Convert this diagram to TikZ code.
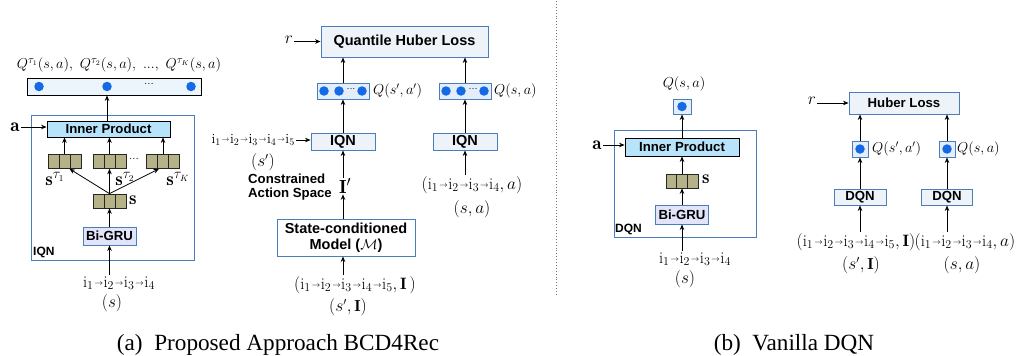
\documentclass[tikz,border=0pt]{standalone}
\usepackage{fontspec}
\setsansfont{Liberation Sans}
\newfontfamily\capfont{Liberation Serif}
\usetikzlibrary{arrows.meta,calc}
\definecolor{bblue}{RGB}{74,126,187}
\definecolor{lfill}{RGB}{238,243,250}
\definecolor{qfill}{RGB}{228,237,250}
\definecolor{ipfill}{RGB}{183,228,250}
\definecolor{grufill}{RGB}{226,228,250}
\definecolor{olivec}{RGB}{181,178,135}
\definecolor{dotblue}{RGB}{20,105,230}
\definecolor{barfill}{RGB}{236,244,252}
\newcommand{\myfs}[1]{\fontsize{#1}{#1}\selectfont}
\newcommand{\sq}{\mkern1mu\raisebox{0.12em}{$\scriptscriptstyle\rightarrow$}\mkern0.5mu}
\begin{document}
\begin{tikzpicture}[x=1pt,y=-1pt,
  arr/.style={-{Stealth[length=5.5pt,width=4.5pt]}, line width=0.8pt},
  bbox/.style={draw=bblue, line width=0.9pt, fill=lfill, inner sep=0pt, font=\sffamily\bfseries\myfs{14.5}},
  sbox/.style={draw=bblue, line width=0.9pt, fill=lfill, inner sep=0pt, font=\sffamily\bfseries\myfs{13.2}},
  ipbox/.style={draw=black, line width=0.8pt, fill=ipfill, inner sep=0pt, font=\sffamily\bfseries\myfs{13.2}},
  grubox/.style={draw=bblue, line width=0.9pt, fill=grufill, inner sep=0pt, minimum width=53pt, font=\sffamily\bfseries\myfs{13.2}},
  bigbox/.style={draw=bblue, line width=0.9pt, inner sep=0pt},
  qbox/.style={draw=bblue, line width=0.9pt, fill=qfill, inner sep=0pt},
  tag/.style={font=\sffamily\bfseries\myfs{12}, inner sep=0pt, anchor=west},
  dot/.style={circle, fill=dotblue, minimum size=9.5pt, inner sep=0pt},
  vecbox/.style={draw=black!85, fill=olivec, minimum width=33pt, minimum height=14pt, inner sep=0pt, line width=0.7pt,
    path picture={\draw[black!85, line width=0.7pt]
      ([xshift=-5.5pt]path picture bounding box.north) -- ([xshift=-5.5pt]path picture bounding box.south)
      ([xshift=5.5pt]path picture bounding box.north) -- ([xshift=5.5pt]path picture bounding box.south);}},
  mth/.style={font=\myfs{14}, inner sep=1pt},
  seqt/.style={font=\myfs{16.5}, inner sep=1pt},
  big/.style={font=\myfs{19}, inner sep=1pt},
  captxt/.style={font=\capfont\myfs{23.2}, inner sep=0pt, anchor=base}
]
\path[use as bounding box] (0,0) rectangle (1018,356);

%% ---------- (a) left: IQN ----------
\node[mth, font=\myfs{15}] (qlabA) at (119,65) {$Q^{\tau_1}(s,a),\ Q^{\tau_2}(s,a),\ ...,\ Q^{\tau_K}(s,a)$};
\node[draw=black, line width=0.8pt, fill=barfill, minimum width=174pt, minimum height=17pt, inner sep=0pt] (barA) at (114,86.5) {};
\node[dot] (dA1) at (39,86.5) {};
\node[dot] (dA2) at (107,86.5) {};
\node[dot] (dA3) at (191,86.5) {};
\node[font=\myfs{12}, inner sep=0pt] (ddA) at (149,84) {...};
\node[bigbox, minimum width=163pt, minimum height=145pt] (iqnA) at (112.5,187.5) {};
\node[tag] (iqnAl) at (33,252) {IQN};
\node[ipbox, minimum width=123pt, minimum height=16pt] (ipA) at (108.5,129) {Inner Product};
\node[big] (aA) at (15,127) {$\mathbf{a}$};
\draw[arr] (aA.east) -- (aA.east -| ipA.west);
\draw[arr] (ipA.north -| dA2) -- (barA.south -| dA2);
\node[vecbox] (v1) at (64.5,161.5) {};
\node[vecbox] (v2) at (109.5,161.5) {};
\node[vecbox] (v3) at (163,161.5) {};
\node[font=\myfs{12}, inner sep=0pt] (ddv) at (134,159) {...};
\draw[arr] (v1.north) -- (v1.north |- ipA.south);
\draw[arr] (v2.north) -- (v2.north |- ipA.south);
\draw[arr] (v3.north) -- (v3.north |- ipA.south);
\node[big] (s1) at (55,179) {$\mathbf{s}^{\tau_1}$};
\node[big] (s2) at (125,179) {$\mathbf{s}^{\tau_2}$};
\node[big] (sK) at (178,179) {$\mathbf{s}^{\tau_K}$};
\node[vecbox] (vs) at (109.5,201) {};
\node[big, anchor=west] (vsl) at (128,200) {$\mathbf{s}$};
\draw[arr] (vs.north) -- ([xshift=5pt]v1.south);
\draw[arr] (vs.north) -- (v2.south);
\draw[arr] (vs.north) -- ([xshift=-4pt]v3.south);
\node[grubox, minimum height=18pt] (gruA) at (109.5,236) {Bi-GRU};
\draw[arr] (gruA.north) -- (vs.south);
\node[seqt] (inA) at (119,283) {$\mathrm{i}_1\sq\mathrm{i}_2\sq\mathrm{i}_3\sq\mathrm{i}_4$};
\node[big, font=\myfs{16}] (sA) at (112,303) {$(s)$};
\draw[arr] (inA.north -| gruA) -- (gruA.south);

%% ---------- (a) right: training ----------
\node[bbox, minimum width=167pt, minimum height=31pt] (loss) at (404.5,41.5) {Quantile Huber Loss};
\node[big, font=\myfs{18}] (r1) at (289,40) {$r$};
\draw[arr] (r1.east |- loss.west) -- (loss.west);
\node[qbox, minimum width=52pt, minimum height=16pt] (qL) at (343,91) {};
\node[dot] (qL1) at (324,91) {};
\node[dot] (qL2) at (339,91) {};
\node[dot] (qL3) at (362,91) {};
\node[font=\myfs{11}, inner sep=0pt] (qLd) at (351,89) {...};
\node[qbox, minimum width=52pt, minimum height=16pt] (qR) at (465,91) {};
\node[dot] (qR1) at (446,91) {};
\node[dot] (qR2) at (461,91) {};
\node[dot] (qR3) at (484,91) {};
\node[font=\myfs{11}, inner sep=0pt] (qRd) at (473,89) {...};
\node[mth, anchor=west] (qlL) at (372,91) {$Q(s',a')$};
\node[mth, anchor=west] (qlR) at (493,91) {$Q(s,a)$};
\node[bbox, minimum width=64pt, minimum height=17pt] (iqnL) at (343,141.5) {IQN};
\node[bbox, minimum width=64pt, minimum height=17pt] (iqnR) at (465,141.5) {IQN};
\draw[arr] (qL.north) -- (qL.north |- loss.south);
\draw[arr] (qR.north) -- (qR.north |- loss.south);
\draw[arr] (iqnL.north) -- (qL.south);
\draw[arr] (iqnR.north) -- (qR.south);
\node[seqt, font=\myfs{14}, anchor=east] (sqL) at (296,140) {$\mathrm{i}_1\sq\mathrm{i}_2\sq\mathrm{i}_3\sq\mathrm{i}_4\sq\mathrm{i}_5$};
\draw[arr] (sqL.east) -- (sqL.east -| iqnL.west);
\node[big, font=\myfs{16}] (sLp) at (263,162) {$(s')$};
\node[font=\sffamily\bfseries\myfs{13.2}, align=left, inner sep=0pt] (cas) at (290,187) {Constrained\\[1pt]Action Space};
\node[big] (ipr) at (345,186) {$\mathbf{I}'$};
\node[draw=bblue, line width=0.9pt, fill=white, minimum width=138pt, minimum height=37pt, inner sep=0pt, align=center, font=\sffamily\bfseries\myfs{14.5}] (smodel) at (346,237.5) {State-conditioned\\[2pt]Model ($\mathcal{M}$)};
\draw[arr] (smodel.north -| iqnL) -- (ipr.south -| iqnL);
\draw[arr] (ipr.north -| iqnL) -- (iqnL.south);
\node[seqt] (inB) at (355,285) {$(\mathrm{i}_1\sq\mathrm{i}_2\sq\mathrm{i}_3\sq\mathrm{i}_4\sq\mathrm{i}_5,\mathbf{I}\,)$};
\node[big, font=\myfs{16}] (sB) at (348,307) {$(s',\mathbf{I})$};
\draw[arr] (inB.north -| iqnL) -- (smodel.south -| iqnL);
\node[seqt] (inC) at (472,185) {$(\mathrm{i}_1\sq\mathrm{i}_2\sq\mathrm{i}_3\sq\mathrm{i}_4,a)$};
\node[big, font=\myfs{16}] (sC) at (472,209) {$(s,a)$};
\draw[arr] (inC.north -| iqnR) -- (iqnR.south);

%% ---------- separator ----------
\coordinate (sepT) at (556,1);
\coordinate (sepB) at (556,295);
\draw[black!55, dotted, line width=0.9pt] (sepT) -- (sepB);

%% ---------- (b) left: DQN ----------
\node[mth] (qlabD) at (684,84) {$Q(s,a)$};
\node[qbox, minimum width=18pt, minimum height=15pt] (qD) at (682,106.5) {};
\node[dot] (qDd) at (682,106.5) {};
\node[bigbox, minimum width=142pt, minimum height=107pt] (dqnA) at (685,183.5) {};
\node[tag] (dqnAl) at (615,229) {DQN};
\node[ipbox, minimum width=114pt, minimum height=18pt] (ipD) at (682,147) {Inner Product};
\node[big] (aD) at (597,145) {$\mathbf{a}$};
\draw[arr] (aD.east) -- (aD.east -| ipD.west);
\draw[arr] (ipD.north) -- (qD.south);
\node[vecbox, minimum width=32pt] (vD) at (682,181) {};
\node[big, anchor=west] (vDl) at (701,179) {$\mathbf{s}$};
\draw[arr] (vD.north) -- (ipD.south);
\node[grubox, minimum height=19pt] (gruD) at (682,214.5) {Bi-GRU};
\draw[arr] (gruD.north) -- (vD.south);
\node[seqt] (inD) at (695,259) {$\mathrm{i}_1\sq\mathrm{i}_2\sq\mathrm{i}_3\sq\mathrm{i}_4$};
\node[big, font=\myfs{16}] (sD) at (685,279) {$(s)$};
\draw[arr] (inD.north -| gruD) -- (gruD.south);

%% ---------- (b) right: training ----------
\node[sbox, minimum width=110pt, minimum height=22pt] (huber) at (904,103) {Huber Loss};
\node[big, font=\myfs{18}] (r2) at (812,101) {$r$};
\draw[arr] (r2.east |- huber.west) -- (huber.west);
\node[qbox, minimum width=16pt, minimum height=16pt] (qE1) at (860,149) {};
\node[dot] (qE1d) at (860,149) {};
\node[qbox, minimum width=16pt, minimum height=16pt] (qE2) at (947,149) {};
\node[dot] (qE2d) at (947,149) {};
\node[mth, anchor=west] (qlE1) at (871,149) {$Q(s',a')$};
\node[mth, anchor=west] (qlE2) at (956,149) {$Q(s,a)$};
\node[sbox, minimum width=52pt, minimum height=16pt] (dqnL) at (860,197) {DQN};
\node[sbox, minimum width=51pt, minimum height=16pt] (dqnR) at (947,197) {DQN};
\draw[arr] (qE1.north) -- (qE1.north |- huber.south);
\draw[arr] (qE2.north) -- (qE2.north |- huber.south);
\draw[arr] (dqnL.north) -- (qE1.south);
\draw[arr] (dqnR.north) -- (qE2.south);
\node[seqt] (inE1) at (856,242) {$(\mathrm{i}_1\sq\mathrm{i}_2\sq\mathrm{i}_3\sq\mathrm{i}_4\sq\mathrm{i}_5,\mathbf{I})$};
\node[big, font=\myfs{16}] (sE1) at (861,265) {$(s',\mathbf{I})$};
\node[seqt] (inE2) at (965,242) {$(\mathrm{i}_1\sq\mathrm{i}_2\sq\mathrm{i}_3\sq\mathrm{i}_4,a)$};
\node[big, font=\myfs{16}] (sE2) at (962,265) {$(s,a)$};
\draw[arr] (inE1.north -| dqnL) -- (dqnL.south);
\draw[arr] (inE2.north -| dqnR) -- (dqnR.south);

%% ---------- captions ----------
\node[captxt] (capA) at (278,350) {(a)\ \ Proposed Approach BCD4Rec};
\node[captxt] (capB) at (794,350) {(b)\ \ Vanilla DQN};
\end{tikzpicture}
\end{document}
